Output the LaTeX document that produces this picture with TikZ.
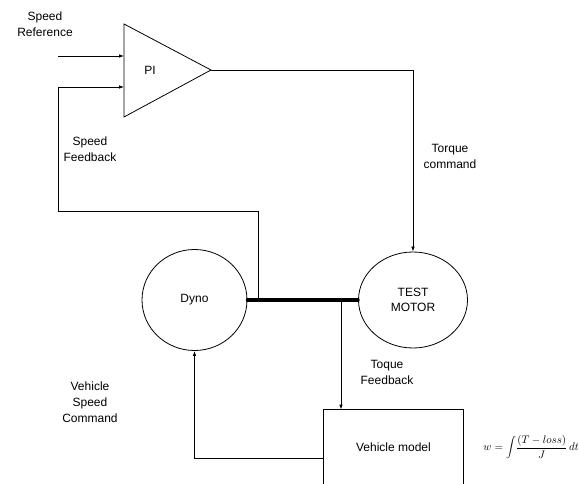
\documentclass[tikz,border=0pt]{standalone}
\usepackage{fontspec}
\setmainfont{Liberation Sans}
\usetikzlibrary{arrows.meta,shapes.geometric}
\begin{document}
\begin{tikzpicture}[x=1pt,y=-1pt,
  line width=0.8pt,
  arr/.style={-{Latex[length=5pt,width=3.6pt]}},
  lbl/.style={align=center,font=\fontsize{12}{16}\selectfont,inner sep=0pt},
  machine/.style={draw,ellipse,inner sep=0pt,font=\fontsize{12}{15}\selectfont,align=center},
  shaft/.style={line width=3.2pt,line cap=round}]
\useasboundingbox (0,0) rectangle (579,484);
% PI amplifier
\coordinate (pitop) at (124,24);
\coordinate (pibot) at (124,117);
\coordinate (pitip) at (211,70);
\draw[line join=miter] (pitop) -- (pitip) -- (pibot) -- cycle;
\node[lbl] (pi) at (150,70) {PI};
\coordinate (in1) at (124,56);
\coordinate (in2) at (124,87);
\coordinate (ref) at (58,56);
% machines
\node[machine,minimum width=105pt,minimum height=101pt] (dyno) at (194.5,300) {Dyno};
\node[machine,minimum width=109pt,minimum height=96pt] (motor) at (413,300) {TEST\\MOTOR};
\draw[shaft] (dyno.east) -- (motor.west);
\coordinate (tapA) at (258,300);
\coordinate (tapB) at (341,300);
% vehicle model
\node[lbl,minimum width=139pt,minimum height=74pt] (vm) at (393.5,447) {Vehicle model};
\draw (vm.south west) -- (vm.north west) -- (vm.north east) -- (vm.south east);
\coordinate (vmout) at (324,458);
% connectors
\draw[arr] (ref) -- (in1);
\draw[arr] (tapA) |- (58,211) |- (in2);
\draw[arr] (pitip) -| (motor.north);
\draw[arr] (tapB) -- (tapB |- vm.north);
\draw[arr] (vmout) -| (dyno.south);
% labels
\node[lbl] (lref) at (45,24) {Speed\\Reference};
\node[lbl] (lfb) at (90,149) {Speed\\Feedback};
\node[lbl] (ltq) at (450,156) {Torque\\command};
\node[lbl] (ltf) at (387,372) {Toque\\Feedback};
\node[lbl] (lvs) at (90,402) {Vehicle\\Speed\\Command};
\node[inner sep=0pt,anchor=west,font=\fontsize{10.8}{13}\selectfont] (eq) at (483,447) {$w=\displaystyle\int\!\frac{(T-loss)}{J}\,dt$};
\end{tikzpicture}
\end{document}
